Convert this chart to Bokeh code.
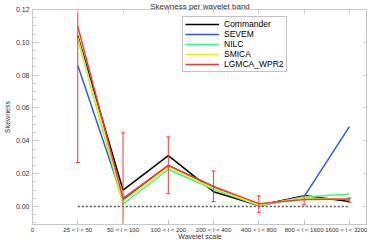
from bokeh.plotting import figure
from bokeh.models import (Range1d, FixedTicker, LinearAxis, Legend, LegendItem,
                          CustomJSTickFormatter)
from bokeh.embed import file_html
from bokeh.resources import INLINE

# ---- data ----
bands = [1, 2, 3, 4, 5, 6, 7]
tick_labels = ["0", "25 < l < 50", "50 < l < 100", "100 < l < 200", "200 < l < 400",
               "400 < l < 800", "800 < l < 1600", "1600 < l < 3200"]
y_ticks = [0.0, 0.02, 0.04, 0.06, 0.08, 0.10, 0.12]
commander = [0.104, 0.010, 0.031, 0.009, 0.0006, 0.0066, 0.003]
sevem = [0.086, 0.004, 0.025, 0.012, 0.0002, 0.006, 0.0486]
nilc = [0.102, 0.0015, 0.0225, 0.0105, 0.0006, 0.0058, 0.0076]
smica = [0.103, 0.003, 0.024, 0.011, 0.001, 0.0052, 0.0042]
lgmca = [0.1097, 0.005, 0.025, 0.0122, 0.0017, 0.0043, 0.0046]
err_lo = [0.0268, -0.035, 0.0078, 0.003, -0.0036, 0.001, 0.0026]
err_hi = [0.19, 0.0448, 0.0424, 0.0216, 0.0064, 0.0066, 0.0052]
zero_x = [1, 7]
zero_y = [0.0, 0.0]

series = [("Commander", commander, "#000000"),
          ("SEVEM", sevem, "#3355ff"),
          ("NILC", nilc, "#33ff88"),
          ("SMICA", smica, "#eeee00"),
          ("LGMCA_WPR2", lgmca, "#ff3333")]

FONT = "Liberation Sans"
AX = "#c8c8c8"
TXT = "#333333"
minor_y = [-0.01 + 0.005 * i for i in range(27)]

p = figure(width=367, height=242, output_backend="svg", toolbar_location=None,
           x_range=Range1d(0, 7.4), y_range=Range1d(-0.011, 0.12),
           min_border_left=0, min_border_right=0, min_border_top=0, min_border_bottom=0)
p.outline_line_color = AX
p.grid.visible = False

p.title.text = "Skewness per wavelet band"
p.title.text_font = FONT
p.title.text_font_size = "8px"
p.title.text_font_style = "normal"
p.title.text_color = TXT
p.title.align = "center"
p.title.offset = 0
p.title.standoff = -2

xa = p.xaxis[0]
xa.ticker = FixedTicker(ticks=list(range(8)))
xa.major_label_overrides = {i: t for i, t in enumerate(tick_labels)}
ya = p.yaxis[0]
ya.ticker = FixedTicker(ticks=y_ticks, minor_ticks=minor_y)
ya.formatter = CustomJSTickFormatter(code="return tick.toFixed(2)")

xa.axis_label = "Wavelet scale"
ya.axis_label = "Skewness"
for ax in (xa, ya):
    ax.axis_line_color = AX
    ax.major_tick_line_color = AX
    ax.minor_tick_line_color = AX
    ax.major_tick_out = 0
    ax.minor_tick_out = 0
    ax.major_label_text_font = FONT
    ax.major_label_text_color = TXT
    ax.axis_label_text_font = FONT
    ax.axis_label_text_font_size = "7px"
    ax.axis_label_text_font_style = "normal"
    ax.axis_label_text_color = TXT
    ax.major_label_standoff = 3
    ax.axis_label_standoff = 2
xa.major_label_text_font_size = "6.1px"
ya.major_label_text_font_size = "7px"
xa.major_label_standoff = 1
xa.axis_label_standoff = -3
xa.major_tick_in = 5
xa.minor_tick_in = 0
ya.major_tick_in = 7
ya.minor_tick_in = 3

top = LinearAxis(ticker=FixedTicker(ticks=list(range(8))))
right = LinearAxis(ticker=FixedTicker(ticks=y_ticks, minor_ticks=minor_y))
for ax in (top, right):
    ax.axis_line_color = AX
    ax.major_tick_line_color = AX
    ax.minor_tick_line_color = AX
    ax.major_tick_out = 0
    ax.minor_tick_out = 0
    ax.major_tick_in = 4
    ax.minor_tick_in = 2 if ax is right else 0
    ax.formatter = CustomJSTickFormatter(code="return ''")
    ax.major_label_standoff = 0
p.add_layout(top, "above")
p.add_layout(right, "right")

p.line(zero_x, zero_y, line_color="#555555", line_dash="2 2", line_width=1.5)

items = []
for name, vals, col in series:
    r = p.line(bands, vals, line_color=col, line_width=1.5)
    items.append(LegendItem(label=name, renderers=[r]))

p.segment(x0=bands, y0=err_lo, x1=bands, y1=err_hi, line_color="#ff3333", line_width=1)
p.dash(x=bands, y=err_hi, size=4, line_color="#ff3333", line_width=1)
p.dash(x=bands, y=err_lo, size=4, line_color="#ff3333", line_width=1)

leg = Legend(items=items, location=(150, 152))
leg.border_line_color = "#888888"
leg.label_text_font = FONT
leg.label_text_font_size = "8.5px"
leg.label_text_color = "#000000"
leg.label_height = 8
leg.glyph_height = 8
leg.glyph_width = 34
leg.spacing = 0
leg.padding = 2
leg.margin = 0
leg.label_standoff = 5
p.add_layout(leg, "center")

open("out.html", "w").write(file_html(p, INLINE))
